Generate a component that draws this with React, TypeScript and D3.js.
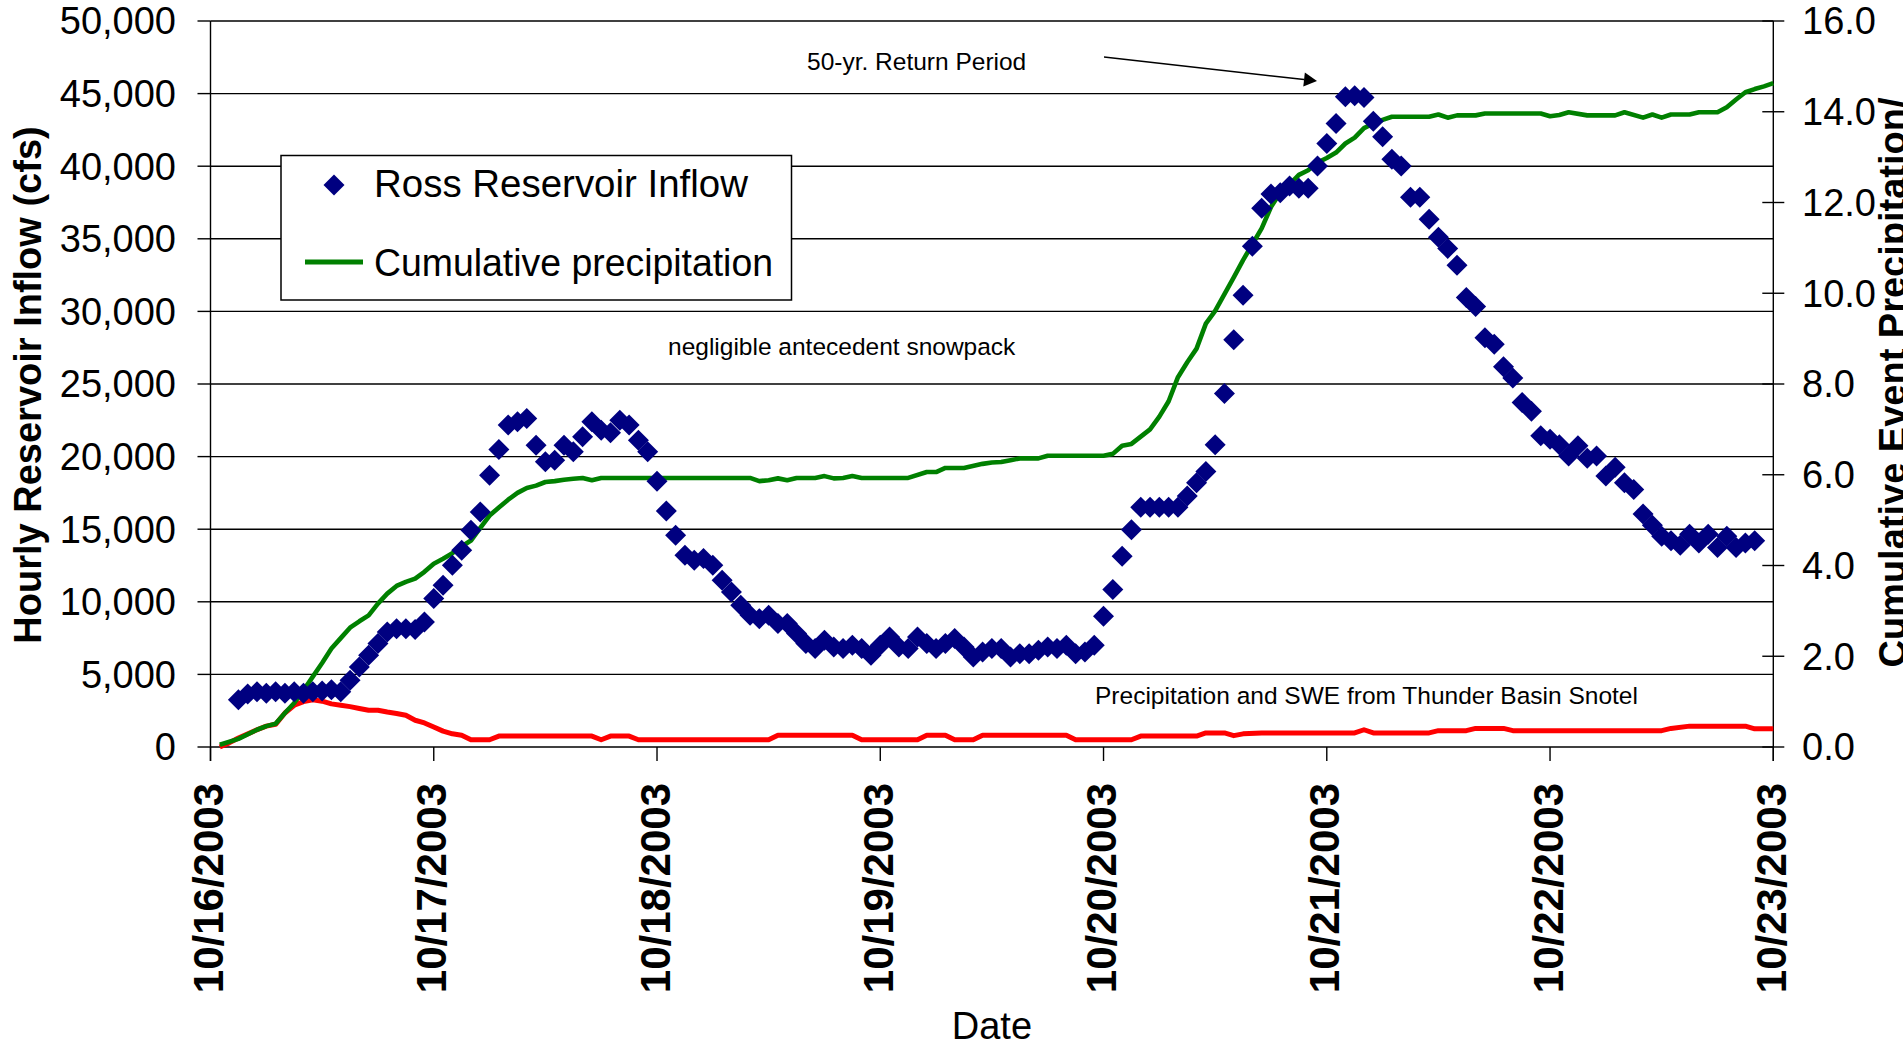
import { useEffect, useRef } from 'react';
import * as d3 from 'd3';

const eventStart = new Date(2003, 9, 16);
const eventEnd = new Date(2003, 9, 23);

// Hourly reservoir inflow (cfs), first reading at 03:00 on 10/16
const inflowFirstHour = 3;
const inflowCfs = [
  3250, 3650, 3800, 3700, 3800, 3700, 3800, 3700, 3800, 3850, 3950, 3800,
  4590, 5510, 6320, 7120, 7920, 8150, 8150, 8090, 8610,
  10220, 11140, 12520, 13550, 14930, 16190, 18720, 20490, 22170, 22400, 22630,
  20790, 19640, 19750, 20790, 20330, 21360, 22400, 21820, 21640, 22510, 22170,
  21130, 20330,
  18300, 16260, 14590, 13210, 12860, 12980, 12520, 11490, 10680, 9760, 9070,
  8840, 9070, 8500, 8500, 7810, 7120, 6780, 7350, 6890, 6780, 7010, 6780, 6320,
  7010, 7580, 6890, 6780, 7580, 7120, 6780, 7120, 7470, 6890, 6200, 6550, 6780,
  6780, 6200, 6430, 6430, 6660, 6890, 6780, 7010, 6430, 6550, 7010,
  9000, 10850, 13130, 14970, 16510, 16510, 16510, 16510, 16510, 17280, 18200,
  18970, 20810, 24350, 28040, 31110, 34490, 37100, 38090, 38180, 38640, 38490,
  38490, 40020, 41560, 42940, 44790, 44850, 44730, 43100, 42020, 40480, 40020,
  37870, 37870, 36340, 35100, 34340, 33170, 30960, 30340, 28190, 27730, 26190,
  25420, 23730, 23120, 21430, 21200, 20810, 20040, 20750, 19890, 20040, 18660,
  19270, 18200, 17740, 16050, 15280, 14510, 14200, 13890, 14660, 14050, 14660,
  13740, 14510, 13740, 14050, 14200,
];

// Cumulative event precipitation (in), hours after 10/16 00:00
const precipHours = [
  1, 3, 5, 6, 7, 8, 9, 10, 11, 12, 13, 14, 15, 16, 17, 18, 19, 20, 21, 22, 23,
  24, 25, 26, 27, 28, 29, 30, 31, 32, 33, 34, 35, 36, 37, 38, 39, 40, 41, 42,
  58, 59, 60, 61, 62, 63, 65, 66, 67, 68, 69, 70, 75, 77, 78, 79, 81, 83, 84,
  85, 86, 87, 89, 90, 96, 97, 98, 99, 100, 101, 102, 103, 104, 105, 106, 107,
  108, 109, 110, 111, 112, 113, 114, 115, 116, 117, 118, 119, 120, 121, 122,
  123, 124, 125, 126, 127, 131, 132, 133, 134, 136, 137, 143, 144, 145, 146,
  148, 151, 152, 154, 155, 156, 157, 159, 160, 162, 163, 164, 165, 166, 167, 168,
];
const precipInches = [
  0.05, 0.18, 0.38, 0.46, 0.51, 0.75, 0.97, 1.25, 1.55, 1.85, 2.17, 2.4, 2.63,
  2.77, 2.9, 3.16, 3.38, 3.55, 3.64, 3.71, 3.86,
  4.04, 4.15, 4.27, 4.42, 4.55, 4.83, 5.1, 5.28, 5.45, 5.6, 5.71, 5.76, 5.84,
  5.86, 5.89, 5.91, 5.93, 5.88, 5.93,
  5.93, 5.86, 5.88, 5.92, 5.88, 5.93, 5.93, 5.97, 5.92, 5.93, 5.97, 5.93, 5.93,
  6.06, 6.06, 6.15, 6.15, 6.24, 6.27,
  6.28, 6.32, 6.36, 6.36, 6.42, 6.42, 6.46, 6.64, 6.68, 6.84, 7.0, 7.28, 7.62,
  8.15, 8.48, 8.78, 9.33,
  9.61, 9.98, 10.35, 10.73, 11.08, 11.43, 11.9, 12.22, 12.4, 12.61, 12.71,
  12.88, 12.98, 13.1, 13.3,
  13.43, 13.64, 13.74, 13.82, 13.89, 13.89, 13.94, 13.87, 13.92, 13.92, 13.96,
  13.96, 13.9, 13.93, 13.99,
  13.92, 13.92, 13.99, 13.87, 13.94, 13.87, 13.94, 13.94, 13.99, 13.99, 14.1,
  14.27, 14.43, 14.5, 14.56, 14.63,
];

// Snotel precipitation / SWE (in), hours after 10/16 00:00
const sweHours = [
  1, 2, 3, 5, 6, 7, 8, 9, 10, 11, 12, 13, 14, 15, 16, 17, 18, 19, 20, 21, 22,
  23, 24, 25, 26, 27, 28, 30, 31, 41, 42, 43, 45, 46, 60, 61, 69, 70, 76, 77,
  79, 80, 82, 83, 92, 93, 99, 100, 106, 107, 109, 110, 111, 113, 123, 124, 125,
  131, 132, 135, 136, 139, 140, 156, 157, 159, 165, 166, 168,
];
const sweInches = [
  0.0, 0.09, 0.2, 0.38, 0.46, 0.5, 0.75, 0.92, 1.0, 1.04, 1.01, 0.95, 0.92,
  0.89, 0.85, 0.81, 0.81, 0.77, 0.74, 0.7, 0.59,
  0.53, 0.44, 0.35, 0.29, 0.26, 0.16, 0.16, 0.24, 0.24, 0.16, 0.24, 0.24, 0.16,
  0.16, 0.26, 0.26, 0.16, 0.16, 0.26,
  0.26, 0.16, 0.16, 0.26, 0.26, 0.16, 0.16, 0.24, 0.24, 0.31, 0.31, 0.25, 0.29,
  0.31, 0.31, 0.38, 0.31,
  0.31, 0.36, 0.36, 0.41, 0.41, 0.36, 0.36, 0.41, 0.46, 0.46, 0.4, 0.4,
];

const inflowTicks = [0, 5000, 10000, 15000, 20000, 25000, 30000, 35000, 40000, 45000, 50000];
const precipTicks = [0, 2, 4, 6, 8, 10, 12, 14, 16];

const seriesNames = ['Ross Reservoir Inflow', 'Cumulative precipitation'];

export default function App() {
  const svgRef = useRef<SVGSVGElement>(null);

  useEffect(() => {
    if (!svgRef.current) return;
    const svg = d3.select(svgRef.current);
    svg.selectAll('*').remove();

    const left = 210.5;
    const right = 1773.3;
    const top = 21;
    const bottom = 747;
    const font = "'Liberation Sans', Arial, sans-serif";

    const x = d3.scaleTime().domain([eventStart, eventEnd]).range([left, right]);
    const yL = d3.scaleLinear().domain([0, 50000]).range([bottom, top]);
    const yR = d3.scaleLinear().domain([0, 16]).range([bottom, top]);
    const atHour = (h: number) => new Date(eventStart.getTime() + h * 3600000);

    svg.attr('font-family', font);

    // Gridlines (one per inflow tick)
    svg.append('g')
      .selectAll('line')
      .data(inflowTicks)
      .join('line')
      .attr('x1', left).attr('x2', right)
      .attr('y1', d => yL(d)).attr('y2', d => yL(d))
      .attr('stroke', '#000').attr('stroke-width', 1.4);

    // Left axis
    const gl = svg.append('g');
    gl.append('line')
      .attr('x1', left).attr('x2', left).attr('y1', top).attr('y2', bottom + 14)
      .attr('stroke', '#000').attr('stroke-width', 1.4);
    gl.selectAll('line.tick')
      .data(inflowTicks)
      .join('line')
      .attr('class', 'tick')
      .attr('x1', left - 13).attr('x2', left)
      .attr('y1', d => yL(d)).attr('y2', d => yL(d))
      .attr('stroke', '#000').attr('stroke-width', 1.4);
    gl.selectAll('text')
      .data(inflowTicks)
      .join('text')
      .attr('x', 176)
      .attr('y', d => yL(d))
      .attr('dy', '0.35em')
      .attr('text-anchor', 'end')
      .attr('font-size', 38)
      .text(d => d3.format(',')(d));

    // Right axis
    const gr = svg.append('g');
    gr.append('line')
      .attr('x1', right).attr('x2', right).attr('y1', top).attr('y2', bottom + 14)
      .attr('stroke', '#000').attr('stroke-width', 1.4);
    gr.selectAll('line.tick')
      .data(precipTicks)
      .join('line')
      .attr('class', 'tick')
      .attr('x1', right - 11).attr('x2', right + 11)
      .attr('y1', d => yR(d)).attr('y2', d => yR(d))
      .attr('stroke', '#000').attr('stroke-width', 1.4);
    gr.selectAll('text')
      .data(precipTicks)
      .join('text')
      .attr('x', 1802)
      .attr('y', d => yR(d))
      .attr('dy', '0.35em')
      .attr('font-size', 38)
      .text(d => d3.format('.1f')(d));

    // Bottom axis
    const days = d3.timeDay.range(eventStart, d3.timeDay.offset(eventEnd, 1));
    const gb = svg.append('g');
    gb.selectAll('line')
      .data(days)
      .join('line')
      .attr('x1', d => x(d)).attr('x2', d => x(d))
      .attr('y1', bottom).attr('y2', bottom + 14)
      .attr('stroke', '#000').attr('stroke-width', 1.4);
    gb.selectAll('text')
      .data(days)
      .join('text')
      .attr('transform', d => `translate(${x(d) + 12.5},783) rotate(-90)`)
      .attr('text-anchor', 'end')
      .attr('font-size', 42)
      .attr('font-weight', 'bold')
      .text(d => d3.timeFormat('%m/%d/%Y')(d));

    // Axis titles
    svg.append('text')
      .attr('transform', `translate(41,385) rotate(-90)`)
      .attr('text-anchor', 'middle')
      .attr('font-size', 38)
      .attr('font-weight', 'bold')
      .text('Hourly Reservoir Inflow (cfs)');
    svg.append('text')
      .attr('transform', `translate(1906,382.5) rotate(-90)`)
      .attr('text-anchor', 'middle')
      .attr('font-size', 38)
      .attr('font-weight', 'bold')
      .text('Cumulative Event Precipitation/');
    svg.append('text')
      .attr('x', (left + right) / 2)
      .attr('y', 1039)
      .attr('text-anchor', 'middle')
      .attr('font-size', 38)
      .text('Date');

    // Snotel line
    const sweLine = d3.line<number>()
      .x((_, i) => x(atHour(sweHours[i])))
      .y(d => yR(d));
    svg.append('path')
      .datum(sweInches)
      .attr('fill', 'none')
      .attr('stroke', '#ff0000')
      .attr('stroke-width', 5)
      .attr('stroke-linejoin', 'round')
      .attr('d', sweLine);

    // Cumulative precipitation line
    const precipLine = d3.line<number>()
      .x((_, i) => x(atHour(precipHours[i])))
      .y(d => yR(d));
    svg.append('path')
      .datum(precipInches)
      .attr('fill', 'none')
      .attr('stroke', '#008000')
      .attr('stroke-width', 4.6)
      .attr('stroke-linejoin', 'round')
      .attr('d', precipLine);

    // Inflow diamonds
    const diamond = 'M0,-10.5L10.5,0L0,10.5L-10.5,0Z';
    svg.append('g')
      .selectAll('path')
      .data(inflowCfs)
      .join('path')
      .attr('d', diamond)
      .attr('transform', (d, i) => `translate(${x(atHour(inflowFirstHour + i))},${yL(d)})`)
      .attr('fill', '#000080');

    // Legend
    const lg = svg.append('g');
    lg.append('rect')
      .attr('x', 281).attr('y', 155.5).attr('width', 510.5).attr('height', 144.5)
      .attr('fill', '#fff').attr('stroke', '#000').attr('stroke-width', 1.5);
    lg.append('path')
      .attr('d', diamond)
      .attr('transform', 'translate(334,185)')
      .attr('fill', '#000080');
    lg.append('line')
      .attr('x1', 305).attr('x2', 363).attr('y1', 262).attr('y2', 262)
      .attr('stroke', '#008000').attr('stroke-width', 5);
    lg.selectAll('text')
      .data(seriesNames)
      .join('text')
      .attr('x', 374)
      .attr('y', (_, i) => (i === 0 ? 197 : 276))
      .attr('font-size', 38)
      .attr('textLength', (_, i) => (i === 0 ? 374 : 399))
      .attr('lengthAdjust', 'spacingAndGlyphs')
      .text(d => d);

    // Annotations
    const notes = [
      { text: '50-yr. Return Period', x: 807, y: 70 },
      { text: 'negligible antecedent snowpack', x: 668, y: 355 },
      { text: 'Precipitation and SWE from Thunder Basin Snotel', x: 1095, y: 704 },
    ];
    svg.append('g')
      .selectAll('text')
      .data(notes)
      .join('text')
      .attr('x', d => d.x)
      .attr('y', d => d.y)
      .attr('font-size', 24.5)
      .text(d => d.text);

    // Arrow to the peak
    const ax1 = 1104, ay1 = 57, ax2 = 1317, ay2 = 81;
    const ang = Math.atan2(ay2 - ay1, ax2 - ax1);
    const hl = 13, hw = 7;
    const bx = ax2 - hl * Math.cos(ang), by = ay2 - hl * Math.sin(ang);
    svg.append('line')
      .attr('x1', ax1).attr('y1', ay1).attr('x2', bx).attr('y2', by)
      .attr('stroke', '#000').attr('stroke-width', 1.5);
    svg.append('path')
      .attr('d', `M${ax2},${ay2}L${bx - hw * Math.sin(ang)},${by + hw * Math.cos(ang)}L${bx + hw * Math.sin(ang)},${by - hw * Math.cos(ang)}Z`)
      .attr('fill', '#000');
  }, []);

  return (
    <div style={{ position: 'absolute', left: 0, top: 0 }}>
      <style>{`body { margin: 0; overflow: hidden; background: #fff; }`}</style>
      <svg ref={svgRef} width={1903} height={1047} style={{ display: 'block', overflow: 'hidden' }} />
    </div>
  );
}
